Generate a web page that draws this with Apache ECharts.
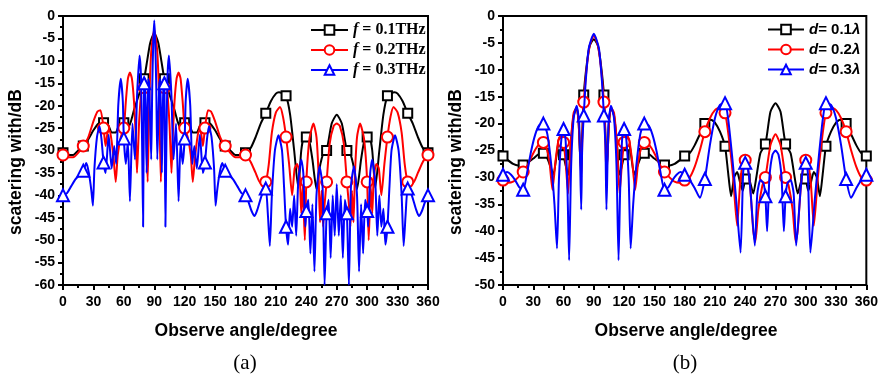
<!DOCTYPE html>
<html><head><meta charset="utf-8">
<script src="https://cdn.jsdelivr.net/npm/echarts@6/dist/echarts.min.js"></script>
<style>html,body{margin:0;padding:0;background:#fff}#c{width:881px;height:375px}</style>
</head><body><div id="c"></div>
<script>
// ---------- DATA: panel (a), frequency ----------
const aNames = ['f = 0.1THz', 'f = 0.2THz', 'f = 0.3THz'];
const aF01 = [[0,-30.5],[5,-31],[10,-31],[15,-30],[20,-29],[25,-27.5],[30,-25.5],[35,-24],[40,-23.8],[45,-24.5],[48,-26],[52,-26],[55,-24.5],[60,-23.8],[64,-25],[67,-23.5],[70,-21],[75,-17.5],[80,-14],[83,-10],[86,-6],[90,-3.8],[94,-6],[97,-10],[100,-14],[105,-17.5],[110,-21],[113,-23.5],[116,-25],[120,-23.8],[125,-24.5],[128,-26],[132,-26],[135,-24.5],[140,-23.8],[145,-24],[150,-25.5],[155,-27.5],[160,-29],[165,-30],[170,-31],[175,-31],[180,-30.5],[185,-29.5],[190,-27],[195,-24],[200,-21.7],[205,-19],[210,-17.3],[213,-17],[216,-17.2],[220,-17.8],[224,-22],[228,-30],[232,-38.3],[235,-30],[238,-26.5],[240,-27],[243,-28],[246,-32],[250,-38.6],[253,-34],[257,-30.5],[260,-30],[265,-24],[270,-22],[275,-24],[280,-30],[283,-30.5],[287,-34],[290,-38.6],[294,-32],[297,-28],[300,-27],[302,-26.5],[305,-30],[308,-38.3],[312,-30],[316,-22],[320,-17.8],[324,-17.2],[327,-17],[330,-17.3],[335,-19],[340,-21.7],[345,-24],[350,-27],[355,-29.5],[360,-30.5]];
const aF02 = [[0,-31],[5,-31.5],[10,-31.5],[15,-30.5],[20,-29],[25,-27],[30,-23.5],[34,-21.3],[37,-21],[40,-25],[42,-29],[44,-26],[46,-25.5],[48,-28],[50,-32],[52,-37],[54,-31],[57,-27],[60,-25],[62,-19],[64,-14],[66,-12.6],[68,-14],[70,-19],[72,-28],[73,-35],[75,-24],[78,-15],[80,-16],[82,-25],[83.5,-37],[85,-20],[87,-8],[90,-3],[93,-8],[95,-20],[96.5,-37],[98,-25],[100,-16],[102,-15],[105,-24],[107,-35],[108,-28],[110,-19],[112,-14],[114,-12.6],[116,-14],[118,-19],[120,-25],[123,-27],[126,-31],[128,-37],[130,-32],[132,-28],[134,-25.5],[136,-26],[138,-29],[140,-25],[143,-21],[146,-21.3],[150,-23.5],[155,-27],[160,-29],[165,-30.5],[170,-31.5],[175,-31.5],[180,-31],[185,-32.5],[190,-35],[195,-37.3],[200,-37],[203,-33],[206,-26],[210,-21.5],[214,-20.3],[217,-22.5],[220,-27],[223,-33],[226,-40],[228.5,-34],[231,-33],[233.5,-36],[235,-44],[236.5,-38],[238.5,-50],[240,-37],[243,-27.5],[247,-24],[250,-27],[252,-35],[253.5,-46],[255,-39],[256.5,-47],[258,-42],[260,-37],[263,-28.5],[267,-24.5],[270,-24],[273,-24.5],[277,-28.5],[280,-37],[282,-42],[283.5,-47],[285,-39],[286.5,-46],[288,-35],[290,-27],[293,-24],[297,-27.5],[300,-37],[301.5,-50],[303.5,-38],[305,-44],[306.5,-36],[309,-33],[311.5,-34],[314,-40],[317,-33],[320,-27],[323,-22.5],[326,-20.3],[330,-21.5],[334,-26],[337,-33],[340,-37],[345,-37.3],[350,-35],[355,-32.5],[360,-31]];
const aF03 = [[0,-40],[4,-39.5],[8,-38],[12,-36.5],[16,-35.5],[20,-34.5],[23,-32.8],[25.5,-35],[28,-39],[29.5,-42.3],[31,-34],[33.5,-27],[36,-24.6],[38,-27.5],[40,-32.7],[42,-35],[45,-26.5],[48,-34],[50.5,-29],[52.5,-33],[54.5,-20],[57,-14],[59,-19],[60,-27.3],[62,-33],[64,-28],[66,-41.3],[68.5,-24],[71,-32],[73,-18],[75.5,-8.8],[77,-14],[78,-28],[79,-47],[80,-15],[81,-14],[82.5,-35],[84,-14],[85,-15],[87,-32],[88,-16],[89,-6],[90,-1],[91,-6],[92,-16],[93,-32],[95,-15],[96,-14],[97.5,-35],[99,-14],[100,-15],[101,-47],[102,-28],[103,-14],[104.5,-8.8],[107,-18],[109,-32],[111.5,-24],[114,-41.3],[116,-28],[118,-33],[120,-27.3],[121,-19],[123,-14],[125.5,-20],[127.5,-33],[129.5,-29],[132,-34],[135,-26.5],[138,-35],[140,-32.7],[142,-27.5],[144,-24.6],[146.5,-27],[149,-34],[150.5,-42.3],[152,-39],[154.5,-35],[157,-32.8],[160,-34.5],[164,-35.5],[168,-36.5],[172,-38],[176,-39.5],[180,-40],[183,-41.5],[186,-43.5],[189,-44.6],[192,-43],[196,-40],[200,-38.5],[202,-44],[204,-51.3],[206,-40],[209,-30],[212.5,-26.6],[216,-30],[218,-38],[220,-47],[222,-51],[224,-43],[226,-47],[228,-40],[230,-49],[232,-37],[235,-32],[237,-35],[239,-47],[240,-43.5],[242,-41],[244,-53],[246,-42],[248,-57],[250,-40],[253,-33.5],[256,-38],[258,-60],[260,-44],[262,-41],[264,-54],[266,-40],[268,-49],[270,-37.5],[272,-49],[274,-40],[276,-54],[278,-41],[280,-44],[282,-60],[284,-38],[287,-33.5],[290,-40],[292,-57],[294,-42],[296,-53],[298,-41],[300,-43.5],[301,-47],[303,-35],[305,-32],[308,-37],[310,-49],[312,-40],[314,-47],[316,-43],[318,-51],[320,-47],[322,-38],[324,-30],[327.5,-26.6],[331,-30],[334,-40],[336,-51.3],[338,-44],[340,-38.5],[344,-40],[348,-43],[351,-44.6],[354,-43.5],[357,-41.5],[360,-40]];

// ---------- DATA: panel (b), spacing ----------
const bNames = ['d= 0.1λ', 'd= 0.2λ', 'd= 0.3λ'];
const bD01 = [[0,-26],[5,-26.8],[10,-27.5],[15,-27.8],[20,-27.7],[25,-27.2],[30,-26.5],[35,-25.7],[40,-25.5],[44,-26.5],[47,-28],[50,-29.5],[53,-26],[56,-22.5],[59,-24],[60,-25.8],[63,-28.5],[65,-29.5],[67,-24],[70,-18.5],[73,-17],[75,-20],[77,-28],[78.5,-22],[80,-14.7],[83,-9],[86,-5.5],[90,-4.3],[94,-5.5],[97,-9],[100,-14.7],[101.5,-22],[103,-28],[105,-20],[107,-17],[110,-18.5],[113,-24],[115,-29.5],[117,-28.5],[120,-25.8],[121,-24],[124,-22.5],[127,-26],[130,-29.5],[133,-28],[136,-26.5],[140,-25.5],[145,-25.7],[150,-26.5],[155,-27.2],[160,-27.7],[165,-27.8],[170,-27.5],[175,-26.8],[180,-26],[185,-25.5],[190,-24],[195,-22],[200,-20],[203,-19.5],[206,-19.3],[210,-19.8],[215,-21.5],[220,-24.2],[223,-29],[226,-33.5],[229,-30],[232,-29],[235,-31],[237.5,-32.5],[240,-30.3],[242.5,-29.5],[245,-31],[248,-33],[251,-30],[255,-25.5],[260,-23.8],[265,-17.8],[270,-16.2],[275,-17.8],[280,-23.8],[285,-25.5],[289,-30],[292,-33],[295,-31],[297.5,-29.5],[300,-30.3],[302.5,-32.5],[305,-31],[308,-29],[311,-30],[314,-33.5],[317,-29],[320,-24.2],[325,-21.5],[330,-19.8],[334,-19.3],[337,-19.5],[340,-20],[345,-22],[350,-24],[355,-25.5],[360,-26]];
const bD02 = [[0,-30.5],[5,-31],[10,-30.8],[15,-30],[20,-29],[25,-27.5],[30,-25.5],[35,-24],[40,-23.5],[43,-24.5],[46,-27],[49,-32.3],[52,-27],[55,-23],[58,-22],[60,-23.5],[62,-27],[64.5,-33],[67,-24],[70,-18],[73,-17],[75,-20],[77.5,-30],[79,-20],[80,-16],[83,-9.5],[86,-5.5],[90,-3.6],[94,-5.5],[97,-9.5],[100,-16],[101,-20],[102.5,-30],[105,-20],[107,-17],[110,-18],[113,-24],[115.5,-33],[118,-27],[120,-23.5],[122,-22],[125,-23],[128,-27],[131,-32.3],[134,-27],[137,-24.5],[140,-23.5],[145,-24],[150,-25.5],[155,-27.5],[160,-29],[165,-30],[170,-30.8],[175,-31],[180,-30.5],[185,-30],[190,-28],[195,-25],[200,-21.5],[205,-19],[210,-17.5],[215,-17],[220,-18],[224,-23],[228,-30],[232,-39],[235,-31],[238,-27],[240,-26.8],[242,-27.5],[245,-32],[248,-40],[250,-42],[253,-36],[257,-31.5],[260,-30],[265,-24],[270,-22],[275,-24],[280,-30],[283,-31.5],[287,-36],[290,-42],[292,-40],[295,-32],[298,-27.5],[300,-26.8],[302,-27],[305,-31],[308,-39],[312,-30],[316,-23],[320,-18],[325,-17],[330,-17.5],[335,-19],[340,-21.5],[345,-25],[350,-28],[355,-30],[360,-30.5]];
const bD03 = [[0,-29.5],[4,-29],[8,-29.5],[12,-30.5],[16,-31.8],[20,-32.3],[24,-29],[28,-25],[32,-22],[36,-20.3],[40,-20],[44,-22],[48,-28],[51,-35],[53.5,-43.2],[55.5,-30],[58,-22.5],[60,-21],[62,-23],[64,-33],[65.5,-45.4],[67.5,-28],[70,-19],[73,-16.7],[75.5,-20],[77.5,-36],[78.5,-24],[80,-18.5],[82,-12],[85,-6],[90,-3.3],[95,-6],[98,-12],[100,-18.5],[101.5,-24],[102.5,-36],[104.5,-20],[107,-16.7],[110,-19],[112.5,-28],[114.5,-45.4],[116,-33],[118,-23],[120,-21],[122,-22.5],[124.5,-30],[126.5,-43.2],[129,-35],[132,-28],[136,-22],[140,-20],[144,-20.3],[148,-22],[152,-25],[156,-29],[160,-32.3],[164,-31.8],[168,-30.5],[172,-29.5],[176,-29],[180,-29.5],[185,-30.5],[190,-32],[195,-33.8],[200,-30.3],[205,-24],[210,-19],[215,-16.5],[220,-16.2],[223,-19],[227,-26],[231,-34],[235.4,-44],[238,-29],[240,-27.3],[242,-27.5],[245,-32],[249.5,-42.7],[252,-33],[255,-30.5],[258,-31],[260,-33.5],[261.7,-40],[264,-30],[267,-25.8],[270,-25],[273,-25.8],[276,-30],[278.3,-40],[280,-33.5],[282,-31],[285,-30.5],[288,-33],[290.5,-42.7],[295,-32],[298,-27.5],[300,-27.3],[302,-29],[304.6,-44],[309,-34],[313,-26],[317,-19],[320,-16.2],[325,-16.5],[330,-19],[335,-24],[340,-30.3],[345,-33.8],[350,-32],[355,-30.5],[360,-29.5]];

// ---------- axis settings ----------
const xMin = 0, xMax = 360, xStep = 30;
const aYMin = -60, bYMin = -50, yMax = 0, yStep = 5;

const colors = ['#000000', '#ff0000', '#0000ff'];
const symbols = ['rect', 'circle', 'triangle'];
const symSizes = [9, 11, 12];

function mk(arr) {
  return arr.map(p => (p[0] % 20 === 0) ? { value: p } : { value: p, symbol: 'none' });
}
function series(name, arr, i, idx) {
  return {
    name: name, type: 'line', xAxisIndex: idx, yAxisIndex: idx,
    data: mk(arr), smooth: 0.2, showSymbol: true, showAllSymbol: true,
    symbol: symbols[i], symbolSize: symSizes[i], clip: true,
    lineStyle: { color: colors[i], width: 2 },
    itemStyle: { color: '#ffffff', borderColor: colors[i], borderWidth: 2 },
    emphasis: { disabled: true }, animation: false, z: 2 + i
  };
}
const lbl = { color: '#000', fontWeight: 'bold', fontSize: 14, fontFamily: 'Liberation Sans, Arial' };
const tick = { inside: false, length: 5, lineStyle: { color: '#000', width: 2 } };
const minor = { show: true, splitNumber: 2, length: 3, lineStyle: { color: '#000', width: 2 } };
function xA(gi) {
  return { gridIndex: gi, type: 'value', min: xMin, max: xMax, interval: xStep,
    axisLine: { onZero: false, lineStyle: { color: '#000', width: 2 } },
    axisTick: tick, minorTick: minor,
    axisLabel: Object.assign({ margin: 10 }, lbl), splitLine: { show: false } };
}
function yA(gi, mn) {
  return { gridIndex: gi, type: 'value', min: mn, max: yMax, interval: yStep,
    axisLine: { onZero: false, lineStyle: { color: '#000', width: 2 } },
    axisTick: tick, minorTick: minor,
    axisLabel: Object.assign({ margin: 8 }, lbl), splitLine: { show: false } };
}
const chart = echarts.init(document.getElementById('c'), null, { renderer: 'canvas' });
const titleFont = 'bold 17.5px "Liberation Sans", Arial';
chart.setOption({
  animation: false,
  grid: [
    { left: 63, top: 16, width: 365, height: 269, show: true, borderColor: '#000', borderWidth: 2, backgroundColor: 'transparent' },
    { left: 503, top: 16, width: 365, height: 269, show: true, borderColor: '#000', borderWidth: 2, backgroundColor: 'transparent' }
  ],
  xAxis: [xA(0), xA(1)],
  yAxis: [yA(0, aYMin), yA(1, bYMin)],
  legend: [
    { data: aNames, orient: 'vertical', left: 310, top: 22, padding: 0, itemWidth: 37, itemHeight: 12, itemGap: 4,
      selectedMode: false,
      formatter: n => '{i|f}{n|' + n.slice(1) + '}',
      textStyle: { rich: {
        i: { fontStyle: 'italic', fontWeight: 'bold', fontSize: 16, lineHeight: 15, fontFamily: 'Liberation Serif', color: '#000' },
        n: { fontWeight: 'bold', fontSize: 16, lineHeight: 15, fontFamily: 'Liberation Serif', color: '#000' } } } },
    { data: bNames, orient: 'vertical', left: 767, top: 22, padding: 0, itemWidth: 36, itemHeight: 12, itemGap: 5,
      selectedMode: false,
      formatter: n => '{i|d}{n|' + n.slice(1, -1) + '}{i|λ}',
      textStyle: { rich: {
        i: { fontStyle: 'italic', fontWeight: 'bold', fontSize: 15, lineHeight: 15, fontFamily: 'Liberation Sans', color: '#000' },
        n: { fontWeight: 'bold', fontSize: 15, lineHeight: 15, fontFamily: 'Liberation Sans', color: '#000' } } } }
  ],
  graphic: [
    { type: 'text', x: 16, y: 162, rotation: Math.PI / 2, style: { text: 'scatering with/dB', font: titleFont, fill: '#000', textAlign: 'center', textVerticalAlign: 'middle' } },
    { type: 'text', x: 456, y: 162, rotation: Math.PI / 2, style: { text: 'scatering with/dB', font: titleFont, fill: '#000', textAlign: 'center', textVerticalAlign: 'middle' } },
    { type: 'text', x: 246, y: 331, style: { text: 'Observe angle/degree', font: titleFont, fill: '#000', textAlign: 'center', textVerticalAlign: 'middle' } },
    { type: 'text', x: 686, y: 331, style: { text: 'Observe angle/degree', font: titleFont, fill: '#000', textAlign: 'center', textVerticalAlign: 'middle' } },
    { type: 'text', x: 245, y: 363, style: { text: '(a)', font: '21px "Liberation Serif"', fill: '#000', textAlign: 'center', textVerticalAlign: 'middle' } },
    { type: 'text', x: 685, y: 363, style: { text: '(b)', font: '21px "Liberation Serif"', fill: '#000', textAlign: 'center', textVerticalAlign: 'middle' } }
  ],
  series: [
    series(aNames[0], aF01, 0, 0), series(aNames[1], aF02, 1, 0), series(aNames[2], aF03, 2, 0),
    series(bNames[0], bD01, 0, 1), series(bNames[1], bD02, 1, 1), series(bNames[2], bD03, 2, 1)
  ]
});
</script>
</body></html>
